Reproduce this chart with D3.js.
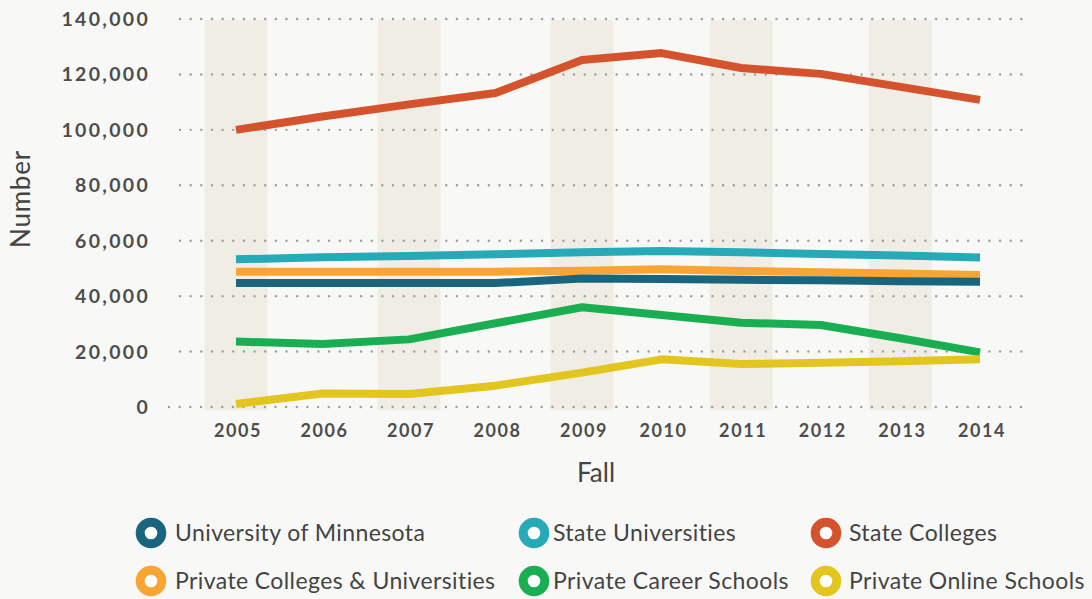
<!DOCTYPE html>
<html>
<head>
<meta charset="utf-8">
<script src="https://cdn.jsdelivr.net/npm/d3@7"></script>
<style>
  html, body { margin: 0; padding: 0; background: #f8f8f6; }
  svg { display: block; }
  .tick-label { font-family: Lato, sans-serif; font-weight: 700; fill: #4d4d4d; }
  .axis-title { font-family: Lato, sans-serif; font-weight: 400; fill: #444; }
  .legend-label { font-family: Lato, sans-serif; fill: #444; }
</style>
</head>
<body>
<svg id="chart"></svg>
<script>
const WIDTH = 1092;
const HEIGHT = 599;

const years = [2005, 2006, 2007, 2008, 2009, 2010, 2011, 2012, 2013, 2014];
const shadedYears = [2005, 2007, 2009, 2011, 2013];
const yTicks = [0, 20000, 40000, 60000, 80000, 100000, 120000, 140000];

const seriesNames = [
  'University of Minnesota',
  'State Universities',
  'State Colleges',
  'Private Colleges & Universities',
  'Private Career Schools',
  'Private Online Schools',
];
const seriesColors = ['#19657d', '#27aab8', '#d5532c', '#f9a533', '#1aae52', '#e3c520'];

const uMinnesota = [44700, 44700, 44700, 44700, 46400, 46200, 45900, 45700, 45400, 45200];
const stateUniversities = [53300, 54000, 54500, 55100, 55800, 56300, 55800, 55200, 54700, 53900];
const stateColleges = [100000, 104800, 109200, 113300, 125200, 127700, 122300, 120200, 115500, 110800];
const privateColleges = [48800, 48800, 48800, 48800, 49200, 49700, 49100, 48600, 48200, 47600];
const privateCareer = [23600, 22700, 24400, 30200, 36000, 33200, 30400, 29600, 24800, 19700];
const privateOnline = [1100, 4900, 4700, 7700, 12400, 17200, 15500, 16000, 16500, 17200];

// draw order: back to front
const drawOrder = [2, 1, 3, 0, 4, 5];
const seriesValues = [uMinnesota, stateUniversities, stateColleges, privateColleges, privateCareer, privateOnline];

const svg = d3.select('#chart')
  .attr('width', WIDTH)
  .attr('height', HEIGHT);

svg.append('rect')
  .attr('width', WIDTH)
  .attr('height', HEIGHT)
  .attr('fill', '#f8f8f6');

// year spacing in the original is slightly uneven, so piecewise scale
const x = d3.scaleLinear()
  .domain([2005, 2009, 2014])
  .range([236, 582, 980]);

const y = d3.scaleLinear()
  .domain([0, 140000])
  .range([407, 19]);

const BAND_WIDTH = 63;

// shaded columns
svg.append('g')
  .selectAll('rect')
  .data(shadedYears)
  .enter()
  .append('rect')
  .attr('x', d => x(d) - BAND_WIDTH / 2)
  .attr('y', y(140000) + 1)
  .attr('width', BAND_WIDTH)
  .attr('height', y(0) - y(140000) + 2)
  .attr('fill', '#f0ede5');

// dotted grid
svg.append('g')
  .selectAll('line')
  .data(yTicks)
  .enter()
  .append('line')
  .attr('x1', d => (d === 0 ? 169 : 180))
  .attr('x2', 1024)
  .attr('y1', d => y(d))
  .attr('y2', d => y(d))
  .attr('stroke', '#9b9b9b')
  .attr('stroke-width', 2.4)
  .attr('stroke-linecap', 'round')
  .attr('stroke-dasharray', '0 10.65');

// y tick labels
svg.append('g')
  .selectAll('text')
  .data(yTicks)
  .enter()
  .append('text')
  .attr('class', 'tick-label')
  .attr('x', 150)
  .attr('y', d => y(d))
  .attr('dy', '0.36em')
  .attr('text-anchor', 'end')
  .style('font-size', '19.5px')
  .style('letter-spacing', '2.3px')
  .text(d => d3.format(',')(d));

// x tick labels
svg.append('g')
  .selectAll('text')
  .data(years)
  .enter()
  .append('text')
  .attr('class', 'tick-label')
  .attr('x', d => x(d) + 2)
  .attr('y', 437)
  .attr('text-anchor', 'middle')
  .style('font-size', '18px')
  .style('letter-spacing', '1.6px')
  .text(d => d);

// axis titles
svg.append('text')
  .attr('class', 'axis-title')
  .attr('transform', 'translate(30,199) rotate(-90)')
  .attr('text-anchor', 'middle')
  .style('font-size', '26px')
  .style('letter-spacing', '0.8px')
  .text('Number');

svg.append('text')
  .attr('class', 'axis-title')
  .attr('x', 596)
  .attr('y', 482)
  .attr('text-anchor', 'middle')
  .style('font-size', '26px')
  .text('Fall');

// lines
const line = d3.line()
  .x((d, i) => x(years[i]))
  .y(d => y(d));

svg.append('g')
  .selectAll('path')
  .data(drawOrder)
  .enter()
  .append('path')
  .attr('d', i => line(seriesValues[i]))
  .attr('fill', 'none')
  .attr('stroke', i => seriesColors[i])
  .attr('stroke-width', 8)
  .attr('stroke-linejoin', 'round')
  .attr('stroke-linecap', 'butt');

// legend
const legendCols = [151, 534, 826];
const legendRows = [533, 581];
const legendTextOffset = [24, 19, 23];

const legend = svg.append('g')
  .selectAll('g')
  .data(seriesNames)
  .enter()
  .append('g')
  .attr('transform', (d, i) => `translate(${legendCols[i % 3]},${legendRows[Math.floor(i / 3)]})`);

legend.append('circle')
  .attr('r', 10.8)
  .attr('fill', '#fff')
  .attr('stroke', (d, i) => seriesColors[i])
  .attr('stroke-width', 9);

legend.append('text')
  .attr('class', 'legend-label')
  .attr('x', (d, i) => legendTextOffset[i % 3])
  .attr('dy', '0.35em')
  .style('font-size', '23px')
  .style('letter-spacing', '0.4px')
  .text(d => d);
</script>
</body>
</html>
